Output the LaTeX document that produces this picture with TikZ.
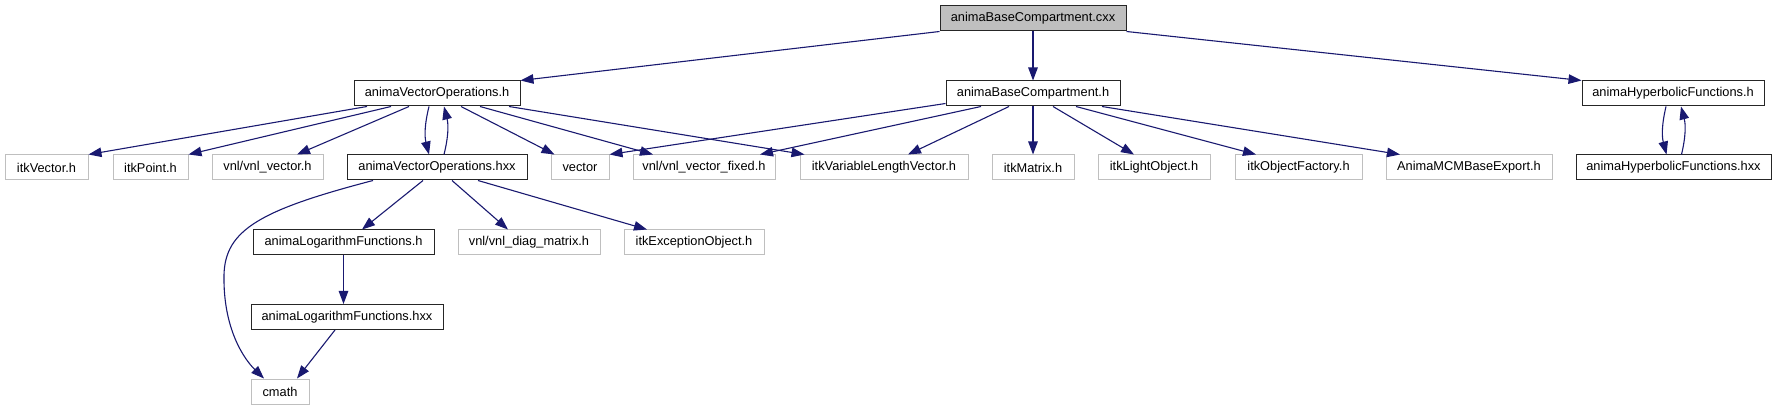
\documentclass[tikz,border=0pt]{standalone}
\usepackage{fontspec}
\setmainfont{Liberation Sans}
\usetikzlibrary{arrows.meta}
\definecolor{edgeblue}{HTML}{191970}
\definecolor{boxgray}{HTML}{BFBFBF}
\begin{document}
\begin{tikzpicture}[x=1pt,y=-1pt,
  box/.style={draw=black!85,line width=1pt,minimum height=25pt,inner sep=0pt,font=\fontsize{12.8}{14}\selectfont},
  extbox/.style={box,draw=boxgray},
  rootbox/.style={box,fill=boxgray},
  e/.style={draw=edgeblue,line width=1.1pt,-{Triangle[length=13pt,width=9.5pt]}}]
\useasboundingbox[fill=white] (0,0) rectangle (1776,411);
% level 0
\node[rootbox,minimum width=186pt] (cxx) at (1033,18.5) {animaBaseCompartment.cxx};
% level 1
\node[box,minimum width=166pt] (VOh) at (437,93.5) {animaVectorOperations.h};
\node[box,minimum width=174pt] (BCh) at (1033,93.5) {animaBaseCompartment.h};
\node[box,minimum width=182pt] (HFh) at (1673,93.5) {animaHyperbolicFunctions.h};
% level 2
\node[extbox,minimum width=83pt] (itkVector) at (46.5,167.5) {itkVector.h};
\node[extbox,minimum width=75pt] (itkPoint) at (150.5,167.5) {itkPoint.h};
\node[extbox,minimum width=111pt] (vnlvector) at (267.5,167.5) {vnl/vnl\_vector.h};
\node[box,minimum width=180pt] (VOhxx) at (437,167.5) {animaVectorOperations.hxx};
\node[extbox,minimum width=58pt] (vector) at (580,167.5) {vector};
\node[extbox,minimum width=142pt] (vnlfixed) at (704,167.5) {vnl/vnl\_vector\_fixed.h};
\node[extbox,minimum width=168pt] (itkVLV) at (884,167.5) {itkVariableLengthVector.h};
\node[extbox,minimum width=82pt] (itkMatrix) at (1033,167.5) {itkMatrix.h};
\node[extbox,minimum width=112pt] (itkLight) at (1154,167.5) {itkLightObject.h};
\node[extbox,minimum width=127pt] (itkOF) at (1298.5,167.5) {itkObjectFactory.h};
\node[extbox,minimum width=166pt] (MCMExport) at (1469,167.5) {AnimaMCMBaseExport.h};
\node[box,minimum width=195pt] (HFhxx) at (1673.5,167.5) {animaHyperbolicFunctions.hxx};
% level 3
\node[box,minimum width=181pt] (LogFh) at (343.5,242.5) {animaLogarithmFunctions.h};
\node[extbox,minimum width=142pt] (diag) at (529,242.5) {vnl/vnl\_diag\_matrix.h};
\node[extbox,minimum width=140pt] (exc) at (694,242.5) {itkExceptionObject.h};
% level 4
\node[box,minimum width=192pt] (LogFhxx) at (347,317) {animaLogarithmFunctions.hxx};
% level 5
\node[extbox,minimum width=58pt] (cmath) at (280,391.5) {cmath};

% edges from cxx
\draw[e] (cxx.south west) -- (VOh.north east);
\draw[e] (cxx.south) -- (BCh.north);
\draw[e] (cxx.south east) -- (HFh.north west);
% edges from animaVectorOperations.h
\draw[e] ([xshift=-70pt]VOh.south) -- (itkVector.north east);
\draw[e] ([xshift=-46pt]VOh.south) -- (itkPoint.north east);
\draw[e] ([xshift=-28pt]VOh.south) -- ([xshift=29.5pt]vnlvector.north);
\draw[e] ([xshift=-8pt]VOh.south) to[bend right=14] ([xshift=-8pt]VOhxx.north);
\draw[e] ([xshift=7pt]VOhxx.north) to[bend right=14] ([xshift=7pt]VOh.south);
\draw[e] ([xshift=24pt]VOh.south) -- ([xshift=4pt]vector.north west);
\draw[e] ([xshift=43pt]VOh.south) -- ([xshift=-51pt]vnlfixed.north);
\draw[e] ([xshift=72pt]VOh.south) -- ([xshift=5pt]itkVLV.north west);
% edges from animaBaseCompartment.h
\draw[e] ([yshift=3pt]BCh.south west) -- (vector.north east);
\draw[e] ([xshift=-52pt]BCh.south) -- ([xshift=56pt]vnlfixed.north);
\draw[e] ([xshift=-24pt]BCh.south) -- ([xshift=24pt]itkVLV.north);
\draw[e] (BCh.south) -- (itkMatrix.north);
\draw[e] ([xshift=20pt]BCh.south) -- ([xshift=-20pt]itkLight.north);
\draw[e] ([xshift=43pt]BCh.south) -- ([xshift=-42.5pt]itkOF.north);
\draw[e] ([xshift=69pt]BCh.south) -- ([xshift=-69pt]MCMExport.north);
% hyperbolic pair
\draw[e] ([xshift=-7pt]HFh.south) to[bend right=14] ([xshift=-7pt]HFhxx.north);
\draw[e] ([xshift=8pt]HFhxx.north) to[bend right=14] ([xshift=8pt]HFh.south);
% edges from animaVectorOperations.hxx
\draw[e] ([xshift=-64pt]VOhxx.south) .. controls (260,210) and (225,230) .. (224,275)
   .. controls (223,330) and (245,360) .. ([xshift=-16pt]cmath.north);
\draw[e] ([xshift=-14pt]VOhxx.south) -- ([xshift=18.5pt]LogFh.north);
\draw[e] ([xshift=15pt]VOhxx.south) -- ([xshift=-21pt]diag.north);
\draw[e] ([xshift=41pt]VOhxx.south) -- ([xshift=-47pt]exc.north);
% logarithm chain
\draw[e] (LogFh.south) -- (LogFh.south |- LogFhxx.north);
\draw[e] ([xshift=-12pt]LogFhxx.south) -- ([xshift=17pt]cmath.north);
\end{tikzpicture}
\end{document}
